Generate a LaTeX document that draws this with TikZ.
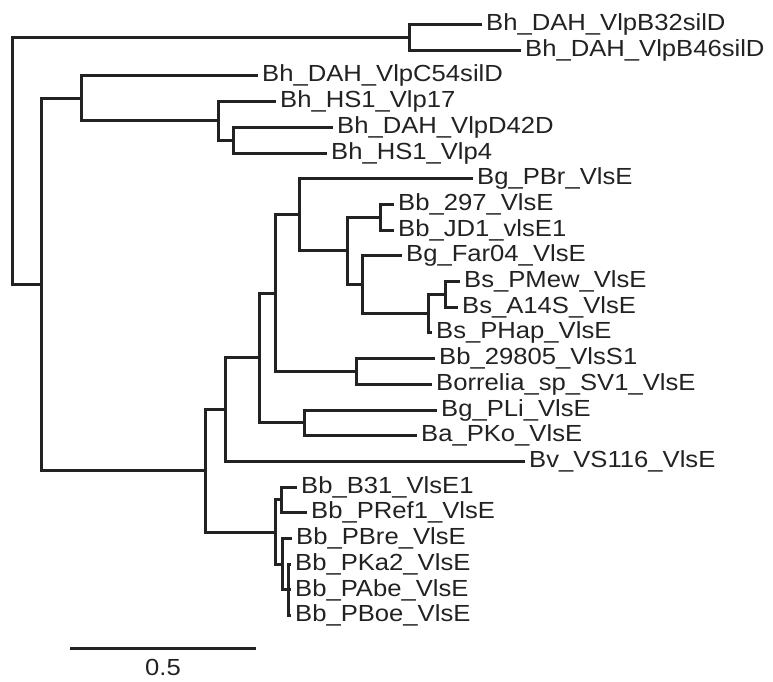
\documentclass[tikz,border=0pt]{standalone}
\usepackage{fontspec}
\setmainfont{Liberation Sans}[FakeStretch=1.1]
\usepackage{tikz}
\usetikzlibrary{positioning}
\definecolor{treegray}{RGB}{34,34,34}

\begin{document}
\begin{tikzpicture}[x=1pt, y=-1pt,
        branch/.style={line width=3pt, treegray},
        taxon/.style={anchor=west, inner sep=0pt, xshift=4pt, text=treegray, font=\fontsize{23.3}{26}\selectfont},
        scalelabel/.style={inner sep=0pt, text=treegray, font=\fontsize{23.3}{26}\selectfont}]
        \useasboundingbox (0,0) rectangle (773,681);
        \path (482,24.5) coordinate (tB32) node[taxon] (lB32) {Bh\_DAH\_VlpB32silD};
        \path (521,50.2) coordinate (tB46) node[taxon] (lB46) {Bh\_DAH\_VlpB46silD};
        \path (258,75.9) coordinate (tC54) node[taxon] (lC54) {Bh\_DAH\_VlpC54silD};
        \path (276,101.6) coordinate (tV17) node[taxon] (lV17) {Bh\_HS1\_Vlp17};
        \path (333,127.3) coordinate (tD42) node[taxon] (lD42) {Bh\_DAH\_VlpD42D};
        \path (327,153.0) coordinate (tV4) node[taxon] (lV4) {Bh\_HS1\_Vlp4};
        \path (473,178.7) coordinate (tPBr) node[taxon] (lPBr) {Bg\_PBr\_VlsE};
        \path (394,204.4) coordinate (t297) node[taxon] (l297) {Bb\_297\_VlsE};
        \path (394,230.1) coordinate (tJD1) node[taxon] (lJD1) {Bb\_JD1\_vlsE1};
        \path (402,255.8) coordinate (tFar) node[taxon] (lFar) {Bg\_Far04\_VlsE};
        \path (460,281.5) coordinate (tPMew) node[taxon] (lPMew) {Bs\_PMew\_VlsE};
        \path (458,307.2) coordinate (tA14S) node[taxon] (lA14S) {Bs\_A14S\_VlsE};
        \path (432,332.9) coordinate (tPHap) node[taxon] (lPHap) {Bs\_PHap\_VlsE};
        \path (435,358.6) coordinate (t298) node[taxon] (l298) {Bb\_29805\_VlsS1};
        \path (432,384.3) coordinate (tSV1) node[taxon] (lSV1) {Borrelia\_sp\_SV1\_VlsE};
        \path (437,410.0) coordinate (tPLi) node[taxon] (lPLi) {Bg\_PLi\_VlsE};
        \path (417,435.7) coordinate (tPKo) node[taxon] (lPKo) {Ba\_PKo\_VlsE};
        \path (525,461.4) coordinate (tBv) node[taxon] (lBv) {Bv\_VS116\_VlsE};
        \path (297,487.1) coordinate (tB31) node[taxon] (lB31) {Bb\_B31\_VlsE1};
        \path (307,512.8) coordinate (tPRef) node[taxon] (lPRef) {Bb\_PRef1\_VlsE};
        \path (292,538.5) coordinate (tPBre) node[taxon] (lPBre) {Bb\_PBre\_VlsE};
        \path (291,564.2) coordinate (tPKa) node[taxon] (lPKa) {Bb\_PKa2\_VlsE};
        \path (291,589.9) coordinate (tPAbe) node[taxon] (lPAbe) {Bb\_PAbe\_VlsE};
        \path (291,615.6) coordinate (tPBoe) node[taxon] (lPBoe) {Bb\_PBoe\_VlsE};
        \coordinate (root) at (12,161.0);
        \coordinate (nB) at (409,37.35);
        \coordinate (nH) at (41,284.65);
        \coordinate (nC) at (81,98.4);
        \coordinate (nD) at (218,120.9);
        \coordinate (nE) at (233,140.15);
        \coordinate (nX) at (205,470.9);
        \coordinate (nT) at (225,409.7);
        \coordinate (nR) at (259,357.98);
        \coordinate (nQ) at (275,293.1);
        \coordinate (nP) at (299,214.8);
        \coordinate (nG) at (347,250.95);
        \coordinate (nJ) at (380,217.25);
        \coordinate (nF) at (362,284.7);
        \coordinate (nS) at (428,313.6);
        \coordinate (nS2) at (445,294.35);
        \coordinate (nV) at (356,371.45);
        \coordinate (nK) at (304,422.85);
        \coordinate (nU) at (275,532.1);
        \coordinate (nB31) at (281,499.95);
        \coordinate (nW) at (282,564.2);
        \coordinate (nK3) at (288,589.9);
        \draw[branch] (root) |- (nB);
        \draw[branch] (root) |- (nH);
        \draw[branch] (nB) |- (tB32);
        \draw[branch] (nB) |- (tB46);
        \draw[branch] (nH) |- (nC);
        \draw[branch] (nH) |- (nX);
        \draw[branch] (nC) |- (tC54);
        \draw[branch] (nC) |- (nD);
        \draw[branch] (nD) |- (tV17);
        \draw[branch] (nD) |- (nE);
        \draw[branch] (nE) |- (tD42);
        \draw[branch] (nE) |- (tV4);
        \draw[branch] (nX) |- (nT);
        \draw[branch] (nX) |- (nU);
        \draw[branch] (nT) |- (nR);
        \draw[branch] (nT) |- (tBv);
        \draw[branch] (nR) |- (nQ);
        \draw[branch] (nR) |- (nK);
        \draw[branch] (nQ) |- (nP);
        \draw[branch] (nQ) |- (nV);
        \draw[branch] (nP) |- (tPBr);
        \draw[branch] (nP) |- (nG);
        \draw[branch] (nG) |- (nJ);
        \draw[branch] (nG) |- (nF);
        \draw[branch] (nJ) |- (t297);
        \draw[branch] (nJ) |- (tJD1);
        \draw[branch] (nF) |- (tFar);
        \draw[branch] (nF) |- (nS);
        \draw[branch] (nS) |- (nS2);
        \draw[branch] (nS) |- (tPHap);
        \draw[branch] (nS2) |- (tPMew);
        \draw[branch] (nS2) |- (tA14S);
        \draw[branch] (nV) |- (t298);
        \draw[branch] (nV) |- (tSV1);
        \draw[branch] (nK) |- (tPLi);
        \draw[branch] (nK) |- (tPKo);
        \draw[branch] (nU) |- (nB31);
        \draw[branch] (nU) |- (nW);
        \draw[branch] (nB31) |- (tB31);
        \draw[branch] (nB31) |- (tPRef);
        \draw[branch] (nW) |- (tPBre);
        \draw[branch] (nW) |- (nK3);
        \draw[branch] (nK3) |- (tPKa);
        \draw[branch] (nK3) |- (tPAbe);
        \draw[branch] (nK3) |- (tPBoe);
        \coordinate (bar0) at (70,648);
        \coordinate (bar1) at (256,648);
        \draw[branch] (bar0) -- node[scalelabel, below=10pt] (barlabel) {0.5} (bar1);
    \end{tikzpicture}
\end{document}
